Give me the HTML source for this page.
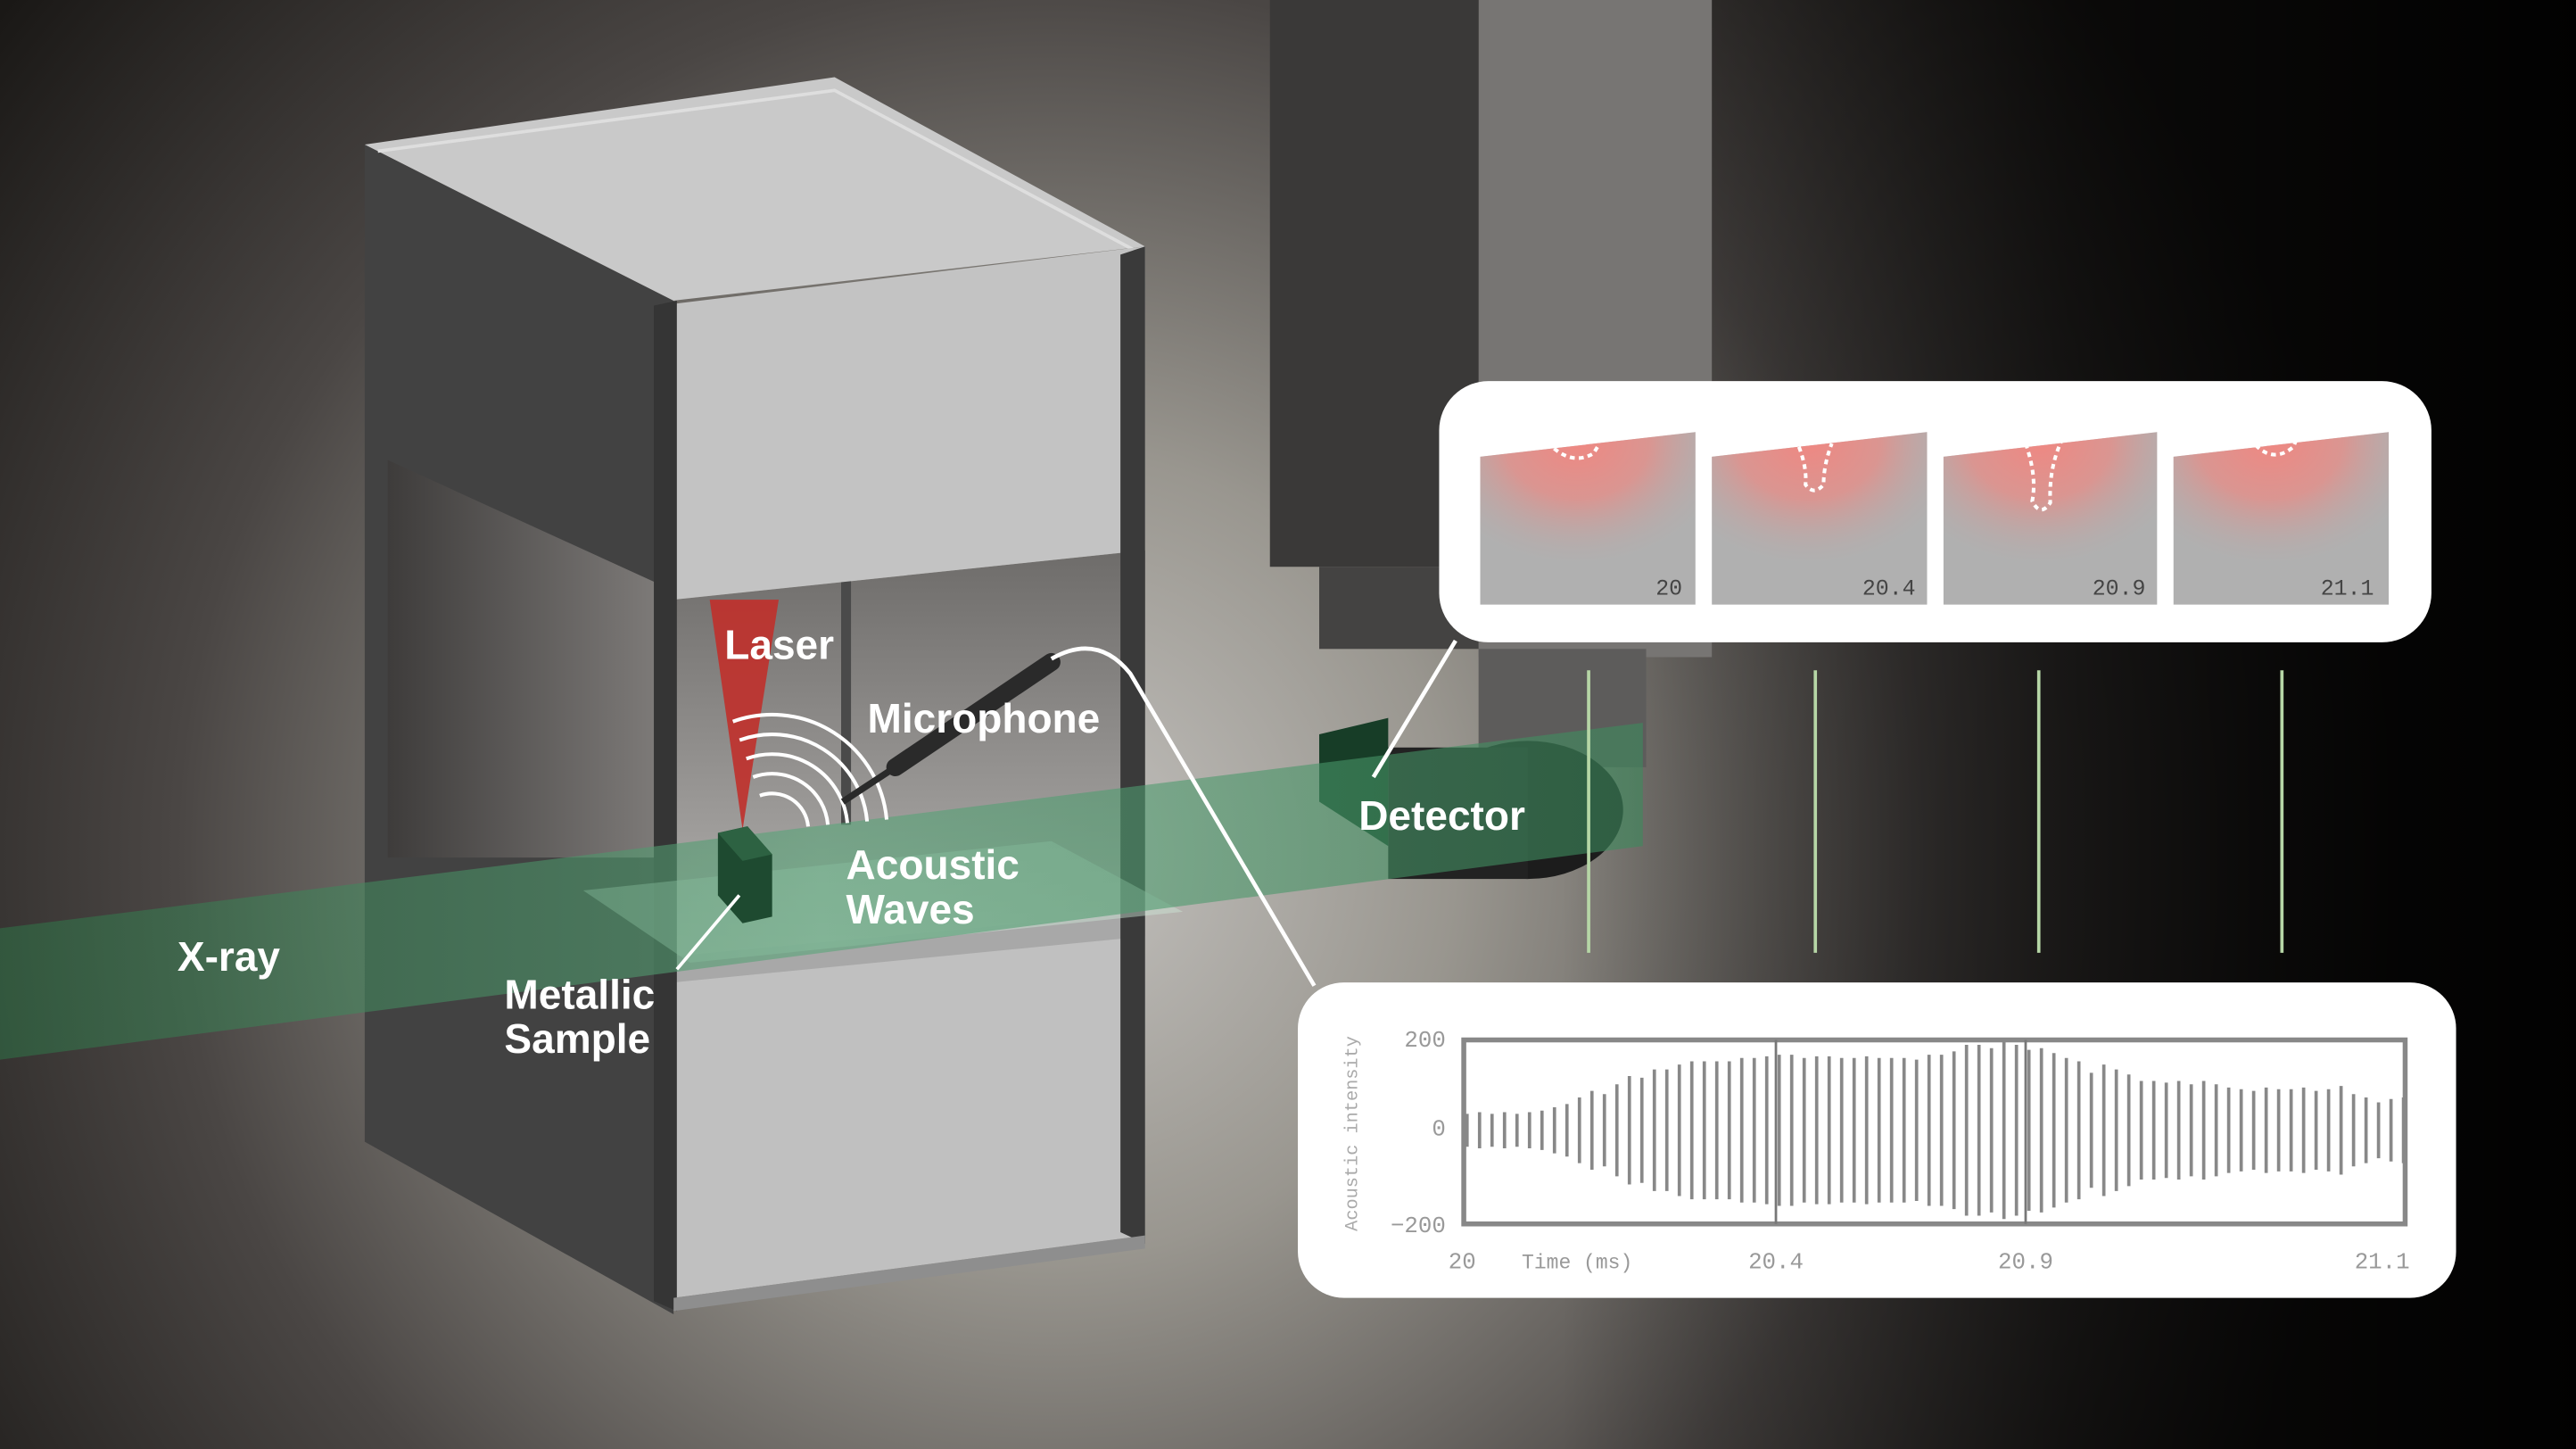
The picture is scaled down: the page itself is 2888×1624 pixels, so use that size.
<!DOCTYPE html>
<html><head><meta charset="utf-8"><style>
html,body{margin:0;padding:0;background:#111;}
svg{display:block;}
</style></head><body>
<svg width="2888" height="1624" viewBox="0 0 1568 882" preserveAspectRatio="none" xmlns="http://www.w3.org/2000/svg">
<defs>
<radialGradient id="bg" cx="640" cy="520" r="820" gradientUnits="userSpaceOnUse">
<stop offset="0" stop-color="#c4c2bf"/><stop offset="0.3" stop-color="#99968f"/><stop offset="0.65" stop-color="#4a4644"/><stop offset="1" stop-color="#1a1816"/>
</radialGradient>
<linearGradient id="rdark" x1="0" y1="0" x2="1" y2="0">
<stop offset="0" stop-color="#000" stop-opacity="0"/><stop offset="0.5" stop-color="#000" stop-opacity="0.6"/><stop offset="1" stop-color="#000" stop-opacity="0.95"/>
</linearGradient>
<linearGradient id="inner" x1="0" y1="0" x2="0" y2="1">
<stop offset="0" stop-color="#6e6c6a"/><stop offset="1" stop-color="#b4b2b0"/>
</linearGradient>
<linearGradient id="innerL" x1="0" y1="0" x2="1" y2="0">
<stop offset="0" stop-color="#3e3c3b"/><stop offset="1" stop-color="#7d7a78"/>
</linearGradient>
<radialGradient id="melt" cx="0.45" cy="0.05" r="0.75">
<stop offset="0" stop-color="#f3857f" stop-opacity="0.95"/><stop offset="0.45" stop-color="#ec8a84" stop-opacity="0.7"/><stop offset="1" stop-color="#b0b0b0" stop-opacity="0"/>
</radialGradient>
<linearGradient id="beam" x1="0" y1="0" x2="1" y2="0">
<stop offset="0" stop-color="#2f6e45"/><stop offset="0.5" stop-color="#5aa67a"/><stop offset="1" stop-color="#3c8a5c"/>
</linearGradient>
</defs>
<rect width="1568" height="882" fill="url(#bg)"/>
<rect x="950" width="618" height="882" fill="url(#rdark)"/>
<!-- detector housing -->
<rect x="900" y="0" width="142" height="400" fill="#777573"/>
<rect x="773" y="0" width="127" height="345" fill="#3a3938"/>
<rect x="803" y="345" width="97" height="50" fill="#444342"/>
<rect x="900" y="395" width="102" height="72" fill="#5d5c5b"/>
<ellipse cx="930" cy="493" rx="58" ry="42" fill="#1c1c1c"/>
<rect x="845" y="455" width="85" height="80" fill="#222"/>
<polygon points="803,447 845,437 845,515 803,488" fill="#173d27"/>
<!-- box left face -->
<polygon points="222,88 410,183 410,800 222,695" fill="#424242"/>
<polygon points="236,280 400,355 400,522 236,522" fill="url(#innerL)"/>
<!-- front opening interior -->
<polygon points="410,365 697,335 697,558 410,582" fill="url(#inner)"/>
<rect x="512" y="352" width="6" height="150" fill="#4a4a4a"/>
<!-- top face -->
<polygon points="222,88 508,47 697,150 410,183" fill="#c9c9c9"/>
<polyline points="230,92 508,55 690,152" fill="none" stroke="#dedede" stroke-width="2"/>
<!-- front top band -->
<polygon points="410,185 697,150 697,335 410,365" fill="#c3c3c3"/>
<!-- front bottom block -->
<polygon points="410,582 697,555 697,752 410,790" fill="#c0c0c0"/>
<polygon points="410,582 697,555 697,570 410,598" fill="#a8a8a8"/>
<!-- pillars -->
<polygon points="398,186 412,183 412,798 398,792" fill="#353535"/>
<polygon points="682,155 697,150 697,757 682,750" fill="#3a3a3a"/>
<polygon points="410,790 697,752 697,760 410,798" fill="#8e8e8e"/>
<!-- plate -->
<polygon points="355,542 640,512 720,555 420,586" fill="#cfe6d8" opacity="0.45"/>
<!-- laser -->
<polygon points="432,365 474,365 452,505" fill="#c0302b" opacity="0.9"/>
<!-- x-ray beam -->
<polygon points="0,565 1000,440 1000,515 0,645" fill="url(#beam)" opacity="0.6"/>
<!-- sample -->
<polygon points="437,507 455,503 470,520 470,558 452,562 437,545" fill="#1e4a30"/>
<polygon points="437,507 455,503 470,520 452,524" fill="#2d6242"/>
<!-- waves -->
<g fill="none" stroke="#fff" stroke-width="2.2">
<path d="M462.5 484.3A22 22 0 0 1 491.9 503.1"/>
<path d="M458.4 473A34 34 0 0 1 503.9 502"/>
<path d="M454.3 461.8A46 46 0 0 1 515.8 501"/>
<path d="M450.2 450.5A58 58 0 0 1 527.8 500"/>
<path d="M446.1 439.2A70 70 0 0 1 539.7 498.9"/>
</g>
<!-- microphone -->
<line x1="513" y1="488" x2="548" y2="465" stroke="#2a2a2a" stroke-width="4"/>
<line x1="545" y1="467" x2="640" y2="403" stroke="#2a2a2a" stroke-width="11" stroke-linecap="round"/>
<!-- connectors -->
<path d="M640 401 Q668 385 688 410 L800 600" fill="none" stroke="#fff" stroke-width="2.5"/>
<line x1="836" y1="473" x2="886" y2="390" stroke="#fff" stroke-width="2.5"/>
<line x1="412" y1="590" x2="450" y2="545" stroke="#fff" stroke-width="2"/>
<!-- green timeline lines -->
<g stroke="#b6d6a6" stroke-width="2">
<line x1="967" y1="408" x2="967" y2="580"/><line x1="1105" y1="408" x2="1105" y2="580"/>
<line x1="1241" y1="408" x2="1241" y2="580"/><line x1="1389" y1="408" x2="1389" y2="580"/>
</g>
<!-- top panel -->
<rect x="876" y="232" width="604" height="159" rx="30" fill="#fff"/>
<g>
<polygon points="901,278 1032,263 1032,368 901,368" fill="#b0b0b0"/>
<polygon points="901,278 1032,263 1032,368 901,368" fill="url(#melt)"/>
<polygon points="1042,278 1173,263 1173,368 1042,368" fill="#b0b0b0"/>
<polygon points="1042,278 1173,263 1173,368 1042,368" fill="url(#melt)"/>
<polygon points="1183,278 1313,263 1313,368 1183,368" fill="#b0b0b0"/>
<polygon points="1183,278 1313,263 1313,368 1183,368" fill="url(#melt)"/>
<polygon points="1323,278 1454,263 1454,368 1323,368" fill="#b0b0b0"/>
<polygon points="1323,278 1454,263 1454,368 1323,368" fill="url(#melt)"/>
</g>
<g fill="none" stroke="#fff" stroke-width="2.2" stroke-dasharray="3 2.5">
<path d="M946 273 Q958 283 970 276 L973 271"/>
<path d="M1095 272 Q1100 285 1099 295 Q1104 302 1110 295 Q1110 283 1115 270"/>
<path d="M1233 270 Q1240 290 1237 305 Q1242 315 1248 306 Q1247 285 1255 268"/>
<path d="M1373 271 Q1384 282 1396 272 L1398 267"/>
</g>
<g font-family="'Liberation Mono',monospace" font-size="13.5" fill="#444" text-anchor="end">
<text x="1024" y="362">20</text><text x="1166" y="362">20.4</text>
<text x="1306" y="362">20.9</text><text x="1445" y="362">21.1</text>
</g>
<!-- bottom panel -->
<rect x="790" y="598" width="705" height="192" rx="28" fill="#fff"/>
<rect x="891" y="633" width="573" height="112" fill="none" stroke="#888" stroke-width="3"/>
<line x1="1081" y1="633" x2="1081" y2="745" stroke="#777" stroke-width="1.5"/>
<line x1="1233" y1="633" x2="1233" y2="745" stroke="#777" stroke-width="1.5"/>
<path stroke="#888" stroke-width="2" fill="none" d="M893 678V698M900.6 677V699M908.2 678V698M915.8 677V699M923.4 678V698M931 677V699M938.6 676V700M946.2 674V702M953.8 672V704M961.4 668V708M969 664V712M976.6 666V710M984.2 660V716M991.8 655V721M999.4 656V720M1007 651V725M1014.6 651V725M1022.2 648V728M1029.8 646V730M1037.4 646V730M1045 646V730M1052.6 646V730M1060.2 644V732M1067.8 644V732M1075.4 643V733M1083 642V734M1090.6 642V734M1098.2 644V732M1105.8 643V733M1113.4 643V733M1121 644V732M1128.6 644V732M1136.2 643V733M1143.8 644V732M1151.4 644V732M1159 644V732M1166.6 645V731M1174.2 642V734M1181.8 642V734M1189.4 640V736M1197 636V740M1204.6 636V740M1212.2 638V738M1219.8 634V742M1227.4 636V740M1235 639V737M1242.6 638V738M1250.2 641V735M1257.8 644V732M1265.4 646V730M1273 653V723M1280.6 648V728M1288.2 651V725M1295.8 654V722M1303.4 658V718M1311 658V718M1318.6 659V717M1326.2 658V718M1333.8 660V716M1341.4 658V718M1349 660V716M1356.6 662V714M1364.2 663V713M1371.8 664V712M1379.4 662V714M1387 663V713M1394.6 663V713M1402.2 662V714M1409.8 664V712M1417.4 663V713M1425 661V715M1432.6 666V710M1440.2 668V708M1447.8 671V705M1455.4 669V707M1463 668V708"/>
<g font-family="'Liberation Mono',monospace" fill="#999">
<text x="880" y="637" font-size="14" text-anchor="end">200</text>
<text x="880" y="691" font-size="14" text-anchor="end">0</text>
<text x="880" y="750" font-size="14" text-anchor="end">−200</text>
<text x="890" y="772" font-size="14" text-anchor="middle">20</text>
<text x="960" y="772" font-size="12.5" text-anchor="middle">Time (ms)</text>
<text x="1081" y="772" font-size="14" text-anchor="middle">20.4</text>
<text x="1233" y="772" font-size="14" text-anchor="middle">20.9</text>
<text x="1450" y="772" font-size="14" text-anchor="middle">21.1</text>
<text transform="translate(826,690) rotate(-90)" font-size="11" text-anchor="middle" fill="#aaa">Acoustic intensity</text>
</g>
<!-- labels -->
<g font-family="'Liberation Sans',sans-serif" font-weight="bold" font-size="25" fill="#fff">
<text x="441" y="401">Laser</text>
<text x="528" y="446">Microphone</text>
<text x="515" y="535">Acoustic</text>
<text x="515" y="562">Waves</text>
<text x="108" y="591">X-ray</text>
<text x="307" y="614">Metallic</text>
<text x="307" y="641">Sample</text>
<text x="827" y="505">Detector</text>
</g>
</svg>
</body></html>
